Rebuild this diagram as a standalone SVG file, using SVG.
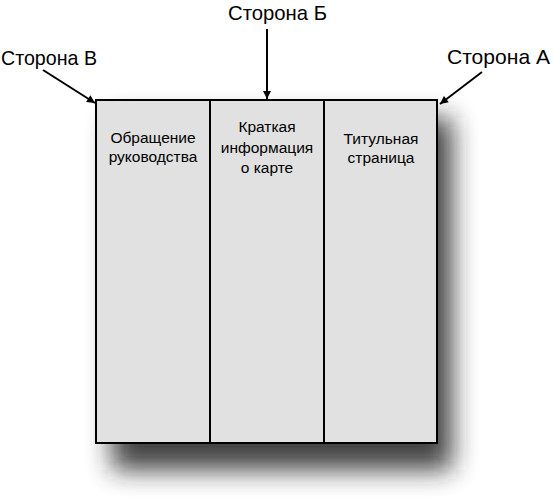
<svg xmlns="http://www.w3.org/2000/svg" width="554" height="497" viewBox="0 0 554 497">
  <defs>
    <filter id="shadow" x="-30%" y="-30%" width="160%" height="160%">
      <feGaussianBlur stdDeviation="13"/>
    </filter>
    <marker id="arrow" viewBox="0 0 10 10" refX="10" refY="5" markerWidth="11" markerHeight="8" markerUnits="userSpaceOnUse" orient="auto">
      <path d="M0,0 L10,5 L0,10 z" fill="#000"/>
    </marker>
    <style>
      .label { font-family: "Liberation Sans", Arial, sans-serif; font-size: 21px; fill: #000; }
      .ptext { font-family: "Liberation Sans", Arial, sans-serif; font-size: 15.5px; fill: #000; text-anchor: middle; }
      .panel { fill: #e1e1e1; stroke: #000; stroke-width: 2; }
      .conn { stroke: #000; stroke-width: 2; fill: none; marker-end: url(#arrow); }
    </style>
  </defs>
  <rect width="554" height="497" fill="#fff"/>
  <rect x="112" y="118" width="340" height="352" fill="#222" opacity="0.85" filter="url(#shadow)"/>

  <g id="panel-v">
    <rect class="panel" x="96" y="100" width="114" height="343"/>
    <text class="ptext" x="153" y="143">Обращение</text>
    <text class="ptext" x="153" y="162">руководства</text>
  </g>
  <g id="panel-b">
    <rect class="panel" x="210" y="100" width="114" height="343"/>
    <text class="ptext" x="267" y="132">Краткая</text>
    <text class="ptext" x="267" y="153">информация</text>
    <text class="ptext" x="267" y="173">о карте</text>
  </g>
  <g id="panel-a">
    <rect class="panel" x="324" y="100" width="113" height="343"/>
    <text class="ptext" x="381" y="144">Титульная</text>
    <text class="ptext" x="381" y="163">страница</text>
  </g>

  <g id="label-v"><text class="label" x="1" y="65" textLength="96" lengthAdjust="spacingAndGlyphs">Сторона В</text></g>
  <g id="label-b"><text class="label" x="228" y="20" textLength="99" lengthAdjust="spacingAndGlyphs">Сторона Б</text></g>
  <g id="label-a"><text class="label" x="447" y="64" textLength="103" lengthAdjust="spacingAndGlyphs">Сторона А</text></g>

  <g id="connectors">
    <line class="conn" x1="43" y1="70" x2="95" y2="103"/>
    <line class="conn" x1="267" y1="29" x2="267" y2="99"/>
    <line class="conn" x1="482" y1="72" x2="440" y2="104"/>
  </g>
</svg>
